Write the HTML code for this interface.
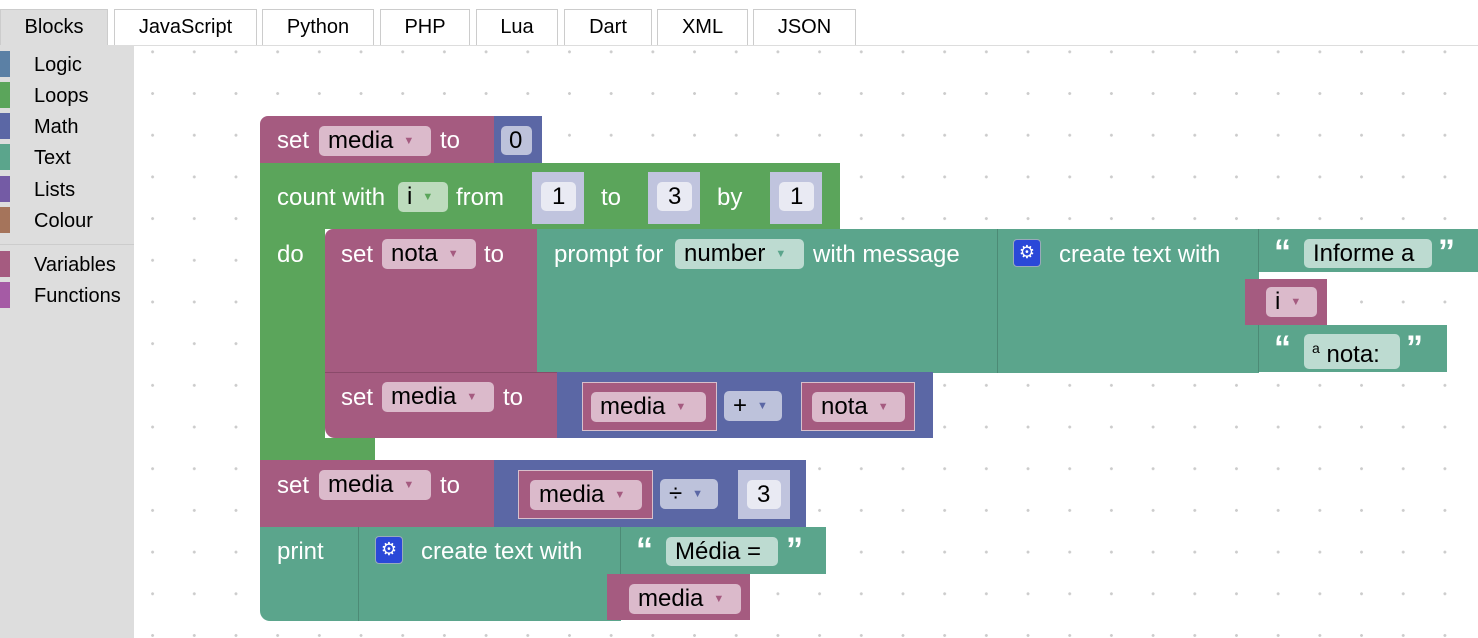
<!DOCTYPE html>
<html><head><meta charset="utf-8"><style>
*{box-sizing:border-box;margin:0;padding:0}
body{width:1478px;height:638px;overflow:hidden;background:#fff;font-family:"Liberation Sans",sans-serif;position:relative}
.tab{position:absolute;top:9px;height:37px;border:1px solid #ccc;border-bottom:none;background:#fff;font-size:20px;text-align:center;line-height:35px;color:#000}
.ws{position:absolute;left:134px;top:46px;width:1344px;height:592px;background-color:#fff;
background-image:radial-gradient(circle,#ccc 1.3px,transparent 1.6px);background-size:41.7px 41.7px;background-position:-169px -15px}
.side{position:absolute;left:0;top:46px;width:134px;height:592px;background:#ddd}
.cat{position:absolute;left:34px;font-size:20px;color:#000}
.str{position:absolute;left:0;width:10px;height:26px}
.b{position:absolute}
.t{position:absolute;color:#fff;font-size:24px;white-space:nowrap}
.f{position:absolute;border-radius:5px;font-size:24px;color:#000;white-space:nowrap;line-height:29px;padding-left:9px}
.q{position:absolute;color:#fff;font-size:34px;font-weight:bold;font-family:"Liberation Sans",sans-serif}
.v{background:#a55b80}.l{background:#5ba55b}.m{background:#5b67a5}.x{background:#5ba58c}
.vf{background:#dbbacb}.lf{background:#bddbbd}.xf{background:#bddbd1}.mf{background:#bdc2db}
.ar{font-size:11px;margin-left:10px;vertical-align:4px}
.v .ar,.vf .ar{color:#a55b80}
</style></head><body>
<div class="tab" style="left:0;width:108px;background:#ddd;">Blocks</div>
<div class="tab" style="left:114px;width:143px">JavaScript</div>
<div class="tab" style="left:262px;width:112px">Python</div>
<div class="tab" style="left:380px;width:90px">PHP</div>
<div class="tab" style="left:476px;width:82px">Lua</div>
<div class="tab" style="left:564px;width:88px">Dart</div>
<div class="tab" style="left:657px;width:91px">XML</div>
<div class="tab" style="left:753px;width:103px">JSON</div>
<div style="position:absolute;left:0;top:45px;width:1478px;height:1px;background:#ddd"></div>
<div class="side">
<div class="str" style="top:5px;background:#5b80a5"></div><div class="cat" style="top:8px">Logic</div>
<div class="str" style="top:36px;background:#5ba55b"></div><div class="cat" style="top:39px">Loops</div>
<div class="str" style="top:67px;background:#5b67a5"></div><div class="cat" style="top:70px">Math</div>
<div class="str" style="top:98px;background:#5ba58c"></div><div class="cat" style="top:101px">Text</div>
<div class="str" style="top:130px;background:#745ba5"></div><div class="cat" style="top:133px">Lists</div>
<div class="str" style="top:161px;background:#a5745b"></div><div class="cat" style="top:164px">Colour</div>
<div style="position:absolute;left:0;top:198px;width:134px;height:1px;background:#ccc"></div>
<div class="str" style="top:205px;background:#a55b80"></div><div class="cat" style="top:208px">Variables</div>
<div class="str" style="top:236px;background:#a55ba5"></div><div class="cat" style="top:239px">Functions</div>
</div>
<div class="ws"></div>

<!-- set media to 0 -->
<div class="b v" style="left:260px;top:116px;width:236px;height:48px;border-radius:8px 0 0 0"></div>
<div class="t" style="left:277px;top:127px">set</div>
<div class="f vf" style="left:319px;top:126px;width:112px">media<span class="ar">▼</span></div>
<div class="t" style="left:440px;top:127px">to</div>
<div class="b m" style="left:494px;top:116px;width:48px;height:48px"></div>
<div class="f mf" style="left:501px;top:126px;width:31px;padding-left:8px">0</div>

<!-- loop -->
<div class="b l" style="left:260px;top:163px;width:580px;height:66px"></div>
<div class="b l" style="left:260px;top:229px;width:65px;height:232px"></div>
<div class="b l" style="left:260px;top:438px;width:115px;height:23px"></div>
<div class="t" style="left:277px;top:184px">count with</div>
<div class="f lf" style="left:398px;top:182px;width:50px">i<span class="ar" style="color:#5ba55b">▼</span></div>
<div class="t" style="left:456px;top:184px">from</div>
<div class="b" style="left:532px;top:172px;width:52px;height:52px;background:#c0c4de"></div>
<div class="f" style="left:541px;top:182px;width:35px;background:#e9eaf3;padding-left:11px">1</div>
<div class="t" style="left:601px;top:184px">to</div>
<div class="b" style="left:648px;top:172px;width:52px;height:52px;background:#c0c4de"></div>
<div class="f" style="left:657px;top:182px;width:35px;background:#e9eaf3;padding-left:11px">3</div>
<div class="t" style="left:717px;top:184px">by</div>
<div class="b" style="left:770px;top:172px;width:52px;height:52px;background:#c0c4de"></div>
<div class="f" style="left:779px;top:182px;width:35px;background:#e9eaf3;padding-left:11px">1</div>
<div class="t" style="left:277px;top:241px">do</div>

<!-- set nota -->
<div class="b v" style="left:325px;top:229px;width:213px;height:144px;border-radius:8px 0 0 0"></div>
<div class="t" style="left:341px;top:241px">set</div>
<div class="f vf" style="left:382px;top:239px;width:94px">nota<span class="ar">▼</span></div>
<div class="t" style="left:484px;top:241px">to</div>
<div class="b x" style="left:537px;top:229px;width:461px;height:144px"></div>
<div class="t" style="left:554px;top:241px">prompt for</div>
<div class="f xf" style="left:675px;top:239px;width:129px">number<span class="ar" style="color:#5ba58c">▼</span></div>
<div class="t" style="left:813px;top:241px">with message</div>
<div class="b x" style="left:997px;top:229px;width:262px;height:144px;border-left:1px solid #4c8a75"></div>
<div class="b" style="left:1013px;top:239px;width:28px;height:28px;background:#2a48d8;border-radius:4px;border:1px solid #9ab;color:#fff;font-size:18px;text-align:center;line-height:24px">⚙</div>
<div class="t" style="left:1059px;top:241px">create text with</div>
<div class="b x" style="left:1258px;top:229px;width:220px;height:43px;border-left:1px solid #4c8a75"></div>
<div class="q" style="left:1274px;top:233px">“</div>
<div class="f xf" style="left:1304px;top:239px;width:128px">Informe a</div>
<div class="q" style="left:1438px;top:233px">”</div>
<div class="b v" style="left:1245px;top:279px;width:82px;height:46px"></div>
<div class="f vf" style="left:1266px;top:287px;width:51px">i<span class="ar">▼</span></div>
<div class="b x" style="left:1258px;top:325px;width:189px;height:47px;border-left:1px solid #4c8a75"></div>
<div class="q" style="left:1274px;top:329px">“</div>
<div class="f xf" style="left:1304px;top:334px;width:96px;padding-left:8px"><sup style="font-size:14px">a</sup> nota:</div>
<div class="q" style="left:1406px;top:329px">”</div>

<!-- set media + -->
<div class="b v" style="left:325px;top:372px;width:233px;height:66px;border-radius:0 0 0 10px;border-top:1px solid #8a4a6a"></div>
<div class="t" style="left:341px;top:384px">set</div>
<div class="f vf" style="left:382px;top:382px;width:112px">media<span class="ar">▼</span></div>
<div class="t" style="left:503px;top:384px">to</div>
<div class="b m" style="left:557px;top:372px;width:376px;height:66px"></div>
<div class="b v" style="left:582px;top:382px;width:135px;height:49px;border:1px solid #d8c0cc"></div>
<div class="f vf" style="left:591px;top:392px;width:115px">media<span class="ar">▼</span></div>
<div class="f mf" style="left:724px;top:391px;width:58px">+<span class="ar" style="color:#5b67a5">▼</span></div>
<div class="b v" style="left:801px;top:382px;width:114px;height:49px;border:1px solid #d8c0cc"></div>
<div class="f vf" style="left:812px;top:392px;width:93px">nota<span class="ar">▼</span></div>

<!-- set media ÷ -->
<div class="b v" style="left:260px;top:460px;width:235px;height:67px"></div>
<div class="t" style="left:277px;top:472px">set</div>
<div class="f vf" style="left:319px;top:470px;width:112px">media<span class="ar">▼</span></div>
<div class="t" style="left:440px;top:472px">to</div>
<div class="b m" style="left:494px;top:460px;width:312px;height:67px"></div>
<div class="b v" style="left:518px;top:470px;width:135px;height:49px;border:1px solid #d8c0cc"></div>
<div class="f vf" style="left:530px;top:480px;width:112px">media<span class="ar">▼</span></div>
<div class="f mf" style="left:660px;top:479px;width:58px">÷<span class="ar" style="color:#5b67a5">▼</span></div>
<div class="b" style="left:738px;top:470px;width:52px;height:49px;background:#c0c4de"></div>
<div class="f" style="left:747px;top:480px;width:34px;background:#e9eaf3;padding-left:10px">3</div>

<!-- print -->
<div class="b x" style="left:260px;top:527px;width:99px;height:94px;border-radius:0 0 0 10px"></div>
<div class="t" style="left:277px;top:538px">print</div>
<div class="b x" style="left:358px;top:527px;width:263px;height:94px;border-left:1px solid #4c8a75"></div>
<div class="b" style="left:375px;top:536px;width:28px;height:28px;background:#2a48d8;border-radius:4px;border:1px solid #9ab;color:#fff;font-size:18px;text-align:center;line-height:24px">⚙</div>
<div class="t" style="left:421px;top:538px">create text with</div>
<div class="b x" style="left:620px;top:527px;width:206px;height:47px;border-left:1px solid #4c8a75"></div>
<div class="q" style="left:636px;top:531px">“</div>
<div class="f xf" style="left:666px;top:537px;width:112px">Média =</div>
<div class="q" style="left:786px;top:531px">”</div>
<div class="b v" style="left:607px;top:574px;width:143px;height:46px"></div>
<div class="f vf" style="left:629px;top:584px;width:112px">media<span class="ar">▼</span></div>
</body></html>
